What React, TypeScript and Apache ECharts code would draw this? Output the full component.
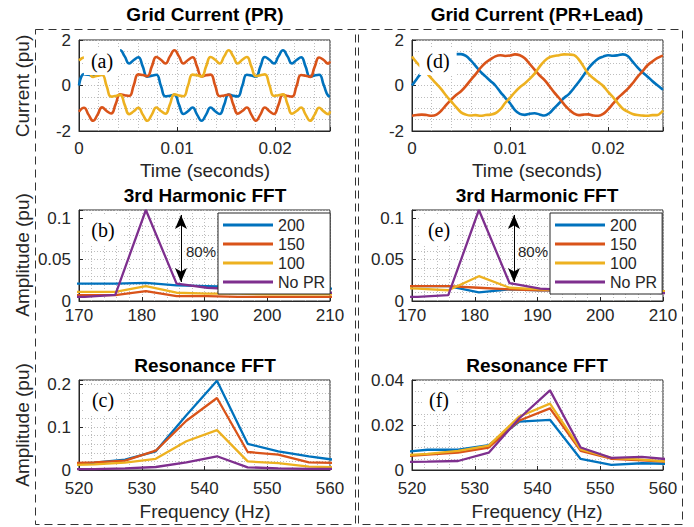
import React, { useEffect, useRef } from 'react';
import * as echarts from 'echarts';

const BLUE = '#0072BD';
const ORANGE = '#D95319';
const YELLOW = '#EDB120';
const PURPLE = '#7E2F8E';
const INK = '#262626';
const SANS = 'Liberation Sans';
const SERIF = 'Liberation Serif';

// ---- time-domain data: PR (time in ms, current in pu) ----
const timeMsPR = [0, 0.51, 0.972, 1.433, 1.894, 2.355, 2.817, 3.278, 3.739, 4.2, 4.661, 5.123, 5.584, 6.045, 6.507, 6.968, 7.429, 7.89, 8.352, 8.813, 9.274, 9.735, 10.197, 10.658, 11.119, 11.58, 12.042, 12.503, 12.964, 13.425, 13.887, 14.348, 14.809, 15.27, 15.732, 16.193, 16.654, 17.115, 17.577, 18.038, 18.499, 18.96, 19.422, 19.883, 20.344, 20.805, 21.267, 21.728, 22.189, 22.65, 23.112, 23.573, 24.034, 24.495, 24.957, 25.418, 25.6];
const prPhaseA = [0.0, 0.5, 0.47, 0.42, 0.85, 1.26, 1.14, 0.98, 1.28, 1.55, 1.28, 0.97, 1.12, 1.24, 0.83, 0.39, 0.43, 0.47, -0.01, -0.48, -0.45, -0.41, -0.84, -1.25, -1.13, -0.97, -1.28, -1.55, -1.28, -0.97, -1.13, -1.25, -0.84, -0.4, -0.45, -0.48, -0.01, 0.47, 0.44, 0.39, 0.83, 1.25, 1.13, 0.97, 1.28, 1.55, 1.28, 0.97, 1.12, 1.24, 0.83, 0.39, 0.44, 0.47, 0.02, -0.45, -0.47];
const prPhaseB = [-1.15, -0.98, -1.28, -1.55, -1.28, -0.96, -1.12, -1.23, -0.82, -0.39, -0.43, -0.46, 0.01, 0.49, 0.46, 0.41, 0.84, 1.25, 1.13, 0.97, 1.28, 1.55, 1.28, 0.97, 1.12, 1.24, 0.83, 0.4, 0.45, 0.48, 0.0, -0.47, -0.44, -0.4, -0.83, -1.24, -1.12, -0.97, -1.28, -1.55, -1.28, -0.97, -1.13, -1.25, -0.85, -0.41, -0.46, -0.49, -0.02, 0.46, 0.43, 0.38, 0.82, 1.23, 1.12, 0.96, 1.06];
const prPhaseC = [1.1, 1.23, 0.82, 0.38, 0.43, 0.46, -0.02, -0.49, -0.46, -0.41, -0.85, -1.26, -1.13, -0.98, -1.28, -1.55, -1.28, -0.97, -1.12, -1.24, -0.83, -0.39, -0.44, -0.47, 0.0, 0.48, 0.45, 0.4, 0.84, 1.25, 1.13, 0.97, 1.28, 1.55, 1.28, 0.97, 1.13, 1.25, 0.84, 0.41, 0.45, 0.49, 0.01, -0.46, -0.43, -0.39, -0.82, -1.24, -1.12, -0.97, -1.28, -1.55, -1.28, -0.98, -1.14, -1.26, -1.13];

// ---- time-domain data: PR+Lead (time in ms, current in pu) ----
const timeMsLead = [0, 0.5, 1, 1.5, 2, 2.5, 3, 3.5, 4, 4.5, 5, 5.5, 6, 6.5, 7, 7.5, 8, 8.5, 9, 9.5, 10, 10.5, 11, 11.5, 12, 12.5, 13, 13.5, 14, 14.5, 15, 15.5, 16, 16.5, 17, 17.5, 18, 18.5, 19, 19.5, 20, 20.5, 21, 21.5, 22, 22.5, 23, 23.5, 24, 24.5, 25, 25.5, 25.6];
const leadPhaseA = [0, 0.3, 0.58, 0.82, 1.0, 1.15, 1.25, 1.32, 1.36, 1.38, 1.38, 1.3, 1.1, 0.85, 0.6, 0.4, 0.2, 0.0, -0.28, -0.53, -0.78, -1.08, -1.25, -1.29, -1.24, -1.22, -1.27, -1.32, -1.22, -1.0, -0.78, -0.55, -0.38, -0.12, 0.15, 0.45, 0.76, 1.0, 1.18, 1.27, 1.33, 1.31, 1.33, 1.37, 1.3, 1.05, 0.8, 0.58, 0.4, 0.2, 0.02, -0.15, -0.18];
const leadPhaseB = [-1.33, -1.3, -1.28, -1.3, -1.33, -1.28, -1.1, -0.85, -0.62, -0.42, -0.25, -0.02, 0.25, 0.5, 0.78, 1.0, 1.15, 1.28, 1.33, 1.3, 1.32, 1.37, 1.33, 1.2, 0.95, 0.7, 0.45, 0.25, -0.02, -0.3, -0.55, -0.82, -1.05, -1.22, -1.3, -1.28, -1.27, -1.32, -1.33, -1.25, -1.05, -0.8, -0.55, -0.35, -0.15, 0.1, 0.38, 0.62, 0.88, 1.05, 1.2, 1.3, 1.31];
const leadPhaseC = [1.28, 1.0, 0.78, 0.55, 0.3, 0.07, -0.17, -0.45, -0.7, -0.95, -1.18, -1.28, -1.32, -1.3, -1.33, -1.3, -1.28, -1.22, -1.05, -0.77, -0.54, -0.29, -0.08, 0.09, 0.29, 0.52, 0.82, 1.07, 1.24, 1.3, 1.33, 1.37, 1.36, 1.34, 1.15, 0.83, 0.51, 0.32, 0.15, -0.02, -0.28, -0.51, -0.78, -1.02, -1.15, -1.25, -1.3, -1.32, -1.33, -1.3, -1.3, -1.15, -1.1];

// ---- 3rd harmonic FFT (Hz, pu) ----
const harmFreq = [166.02, 170.9, 175.78, 180.66, 185.55, 190.43, 195.31, 200.2, 205.08, 209.96, 214.84];
const harmPR200 = [0.021, 0.021, 0.021, 0.022, 0.019, 0.018, 0.017, 0.016, 0.016, 0.015, 0.015];
const harmPR150 = [0.007, 0.007, 0.007, 0.012, 0.006, 0.006, 0.005, 0.005, 0.005, 0.005, 0.005];
const harmPR100 = [0.011, 0.011, 0.011, 0.018, 0.01, 0.009, 0.009, 0.008, 0.008, 0.008, 0.008];
const harmNoPR = [0.005, 0.005, 0.0075, 0.11, 0.021, 0.016, 0.014, 0.012, 0.011, 0.01, 0.01];
const harmLead200 = [0.018, 0.018, 0.018, 0.0105, 0.014, 0.013, 0.013, 0.013, 0.012, 0.012, 0.012];
const harmLead150 = [0.018, 0.018, 0.018, 0.016, 0.014, 0.013, 0.013, 0.013, 0.013, 0.012, 0.012];
const harmLead100 = [0.016, 0.015, 0.013, 0.03, 0.016, 0.014, 0.013, 0.013, 0.013, 0.012, 0.012];
const harmLeadNoPR = [0.005, 0.005, 0.007, 0.11, 0.0215, 0.015, 0.013, 0.012, 0.011, 0.0095, 0.009];

// ---- resonance FFT (Hz, pu) ----
const resFreq = [517.58, 522.46, 527.34, 532.23, 537.11, 541.99, 546.88, 551.76, 556.64, 561.52];
const resPR200 = [0.012, 0.017, 0.024, 0.0435, 0.128, 0.208, 0.061, 0.0435, 0.032, 0.022];
const resPR150 = [0.015, 0.018, 0.022, 0.045, 0.115, 0.168, 0.042, 0.036, 0.018, 0.016];
const resPR100 = [0.011, 0.013, 0.017, 0.026, 0.067, 0.093, 0.02, 0.016, 0.008, 0.006];
const resNoPR = [0.002, 0.002, 0.004, 0.007, 0.018, 0.032, 0.0063, 0.004, 0.0024, 0.0024];
const resLead200 = [0.0078, 0.009, 0.009, 0.011, 0.0215, 0.0223, 0.0049, 0.0023, 0.003, 0.0027];
const resLead150 = [0.006, 0.0068, 0.0077, 0.01, 0.022, 0.0274, 0.0085, 0.005, 0.0043, 0.0036];
const resLead100 = [0.0063, 0.0072, 0.0085, 0.0108, 0.0238, 0.0295, 0.0092, 0.0054, 0.0046, 0.0036];
const resLeadNoPR = [0.0035, 0.0037, 0.004, 0.0077, 0.023, 0.0354, 0.01, 0.0054, 0.0058, 0.0046];

const legendNames = ['200', '150', '100', 'No PR'];

type Panel = {
  left: number; top: number; width: number; height: number; xLabelMargin: number;
  xMin: number; xMax: number; xMajor: number; xMinor: number;
  yMin: number; yMax: number; yMajor: number; yMinor: number;
};

const PL = 79, PR = 412, PW = 251;
const panels: Panel[] = [
  { left: PL, top: 40, width: PW, height: 91, xLabelMargin: 9, xMin: 0, xMax: 0.0256, xMajor: 0.01, xMinor: 0.002, yMin: -2, yMax: 2, yMajor: 2, yMinor: 0.5 },
  { left: PL, top: 210, width: PW, height: 91, xLabelMargin: 6, xMin: 170, xMax: 210, xMajor: 10, xMinor: 2, yMin: 0, yMax: 0.11, yMajor: 0.05, yMinor: 0.01 },
  { left: PL, top: 380, width: PW, height: 90, xLabelMargin: 10, xMin: 520, xMax: 560, xMajor: 10, xMinor: 2, yMin: 0, yMax: 0.21, yMajor: 0.1, yMinor: 0.02 },
  { left: PR, top: 40, width: PW, height: 91, xLabelMargin: 9, xMin: 0, xMax: 0.0256, xMajor: 0.01, xMinor: 0.002, yMin: -2, yMax: 2, yMajor: 2, yMinor: 0.5 },
  { left: PR, top: 210, width: PW, height: 91, xLabelMargin: 6, xMin: 170, xMax: 210, xMajor: 10, xMinor: 2, yMin: 0, yMax: 0.11, yMajor: 0.05, yMinor: 0.01 },
  { left: PR, top: 380, width: PW, height: 90, xLabelMargin: 10, xMin: 520, xMax: 560, xMajor: 10, xMinor: 2, yMin: 0, yMax: 0.04, yMajor: 0.02, yMinor: 0.005 },
];

const isMult = (v: number, step: number) => Math.abs(v / step - Math.round(v / step)) < 1e-6;
const fmt = (v: number) => String(Number(v.toFixed(6)));
const pairs = (xs: number[], ys: number[]) => xs.map((x, i) => [x, ys[i]]);
const msPairs = (ms: number[], ys: number[]) => ms.map((t, i) => [t / 1000, ys[i]]);

const gridDot = { show: true, lineStyle: { color: '#bdbdbd', type: [1, 2] as any, width: 1 } };

function buildOption() {
  const grid: any[] = [];
  const xAxis: any[] = [];
  const yAxis: any[] = [];
  panels.forEach((p, i) => {
    grid.push({ left: p.left, top: p.top, width: p.width, height: p.height, show: true, borderColor: INK, borderWidth: 1, backgroundColor: '#fff', containLabel: false });
    xAxis.push({
      gridIndex: i, type: 'value', position: 'bottom', min: p.xMin, max: p.xMax, interval: p.xMajor,
      axisLine: { show: true, onZero: false, lineStyle: { color: INK, width: 1 } },
      axisTick: { show: true, inside: true, length: 4, lineStyle: { color: INK } },
      axisLabel: { show: true, margin: p.xLabelMargin, fontSize: 17, fontFamily: SANS, color: INK, formatter: (v: number) => (isMult(v, p.xMajor) ? fmt(v) : '') },
      splitLine: { show: false },
    });
    xAxis.push({
      gridIndex: i, type: 'value', position: 'top', min: p.xMin, max: p.xMax, interval: p.xMinor,
      axisLine: { show: false, onZero: false }, axisTick: { show: false }, axisLabel: { show: false },
      splitLine: gridDot,
    });
    yAxis.push({
      gridIndex: i, type: 'value', position: 'left', min: p.yMin, max: p.yMax, interval: p.yMajor,
      axisLine: { show: true, onZero: false, lineStyle: { color: INK, width: 1 } },
      axisTick: { show: true, inside: true, length: 4, lineStyle: { color: INK } },
      axisLabel: { show: true, margin: 8, fontSize: 17, fontFamily: SANS, color: INK, formatter: (v: number) => (isMult(v, p.yMajor) ? fmt(v) : '') },
      splitLine: { show: false },
    });
    yAxis.push({
      gridIndex: i, type: 'value', position: 'right', min: p.yMin, max: p.yMax, interval: p.yMinor,
      axisLine: { show: false, onZero: false }, axisTick: { show: false }, axisLabel: { show: false },
      splitLine: gridDot,
    });
  });

  const line = (name: string, color: string, panel: number, data: number[][], width: number, extra: any = {}) => ({
    type: 'line', name, xAxisIndex: panel * 2, yAxisIndex: panel * 2, data, showSymbol: false, symbol: 'none',
    lineStyle: { color, width }, itemStyle: { color }, clip: true, silent: true, z: 3, ...extra,
  });

  const arrow = (x: number) => ({
    markLine: {
      silent: true, symbol: ['arrow', 'arrow'], symbolSize: [9, 14], label: { show: false },
      lineStyle: { color: '#000', width: 1, type: 'solid' },
      data: [[{ coord: [x, 0.104] }, { coord: [x, 0.023] }]],
    },
  });

  const series: any[] = [
    line('Phase A', BLUE, 0, msPairs(timeMsPR, prPhaseA), 2.6, { smooth: 0.5 }),
    line('Phase B', ORANGE, 0, msPairs(timeMsPR, prPhaseB), 2.6, { smooth: 0.5 }),
    line('Phase C', YELLOW, 0, msPairs(timeMsPR, prPhaseC), 2.6, { smooth: 0.5 }),
    line('200', BLUE, 1, pairs(harmFreq, harmPR200), 2.3),
    line('150', ORANGE, 1, pairs(harmFreq, harmPR150), 2.3),
    line('100', YELLOW, 1, pairs(harmFreq, harmPR100), 2.3),
    line('No PR', PURPLE, 1, pairs(harmFreq, harmNoPR), 2.3, arrow(186.25)),
    line('200', BLUE, 2, pairs(resFreq, resPR200), 2.3),
    line('150', ORANGE, 2, pairs(resFreq, resPR150), 2.3),
    line('100', YELLOW, 2, pairs(resFreq, resPR100), 2.3),
    line('No PR', PURPLE, 2, pairs(resFreq, resNoPR), 2.3),
    line('Phase A', BLUE, 3, msPairs(timeMsLead, leadPhaseA), 2.6, { smooth: 0.4 }),
    line('Phase B', ORANGE, 3, msPairs(timeMsLead, leadPhaseB), 2.6, { smooth: 0.4 }),
    line('Phase C', YELLOW, 3, msPairs(timeMsLead, leadPhaseC), 2.6, { smooth: 0.4 }),
    line('200', BLUE, 4, pairs(harmFreq, harmLead200), 2.3),
    line('150', ORANGE, 4, pairs(harmFreq, harmLead150), 2.3),
    line('100', YELLOW, 4, pairs(harmFreq, harmLead100), 2.3),
    line('No PR', PURPLE, 4, pairs(harmFreq, harmLeadNoPR), 2.3, arrow(186.25)),
    line('200', BLUE, 5, pairs(resFreq, resLead200), 2.3),
    line('150', ORANGE, 5, pairs(resFreq, resLead150), 2.3),
    line('100', YELLOW, 5, pairs(resFreq, resLead100), 2.3),
    line('No PR', PURPLE, 5, pairs(resFreq, resLeadNoPR), 2.3),
  ];

  const legend = (left: number) => ({
    show: true, orient: 'vertical', left, top: 213, data: legendNames, icon: 'rect',
    itemWidth: 50, itemHeight: 3, itemGap: 1, padding: [3, 5, 3, 5],
    backgroundColor: '#fff', borderColor: INK, borderWidth: 1, borderRadius: 0, selectedMode: false,
    textStyle: { fontSize: 16, fontFamily: SANS, color: INK, lineHeight: 18 }, z: 10,
  });

  const txt = (text: string, x: number, y: number, size: number, bold = false, extra: any = {}) => ({
    type: 'text', x, y, z: 100, silent: true,
    style: { text, fontSize: size, fontFamily: SANS, fontWeight: bold ? 'bold' : 'normal', fill: bold ? '#000' : INK, align: 'center', verticalAlign: 'middle' },
    ...extra,
  });
  const tag = (text: string, x: number, y: number) => ({
    type: 'text', x, y, z: 100, silent: true,
    style: { text, fontSize: 20, fontFamily: SERIF, fill: '#000', align: 'center', verticalAlign: 'middle', backgroundColor: '#fff', padding: [4, 7, 4, 7] },
  });
  const ylab = (text: string, y: number) => txt(text, 22, y, 19, false, { rotation: Math.PI / 2 });
  const box = (x0: number, x1: number) => ({
    type: 'rect', z: 0, silent: true, shape: { x: x0 + 0.5, y: 29.5, width: x1 - x0, height: 495 },
    style: { fill: 'none', stroke: '#333', lineWidth: 1, lineDash: [8, 5] },
  });

  const graphic: any[] = [
    box(35, 355), box(358, 682),
    txt('Grid Current (PR)', 205, 14, 19, true),
    txt('Grid Current (PR+Lead)', 537, 14, 19, true),
    txt('Time (seconds)', 205, 170, 19), txt('Time (seconds)', 537, 170, 19),
    txt('3rd Harmonic FFT', 205, 195, 19, true), txt('3rd Harmonic FFT', 537, 195, 19, true),
    txt('Resonance FFT', 205, 365, 19, true), txt('Resonance FFT', 537, 365, 19, true),
    txt('Frequency (Hz)', 205, 511, 19), txt('Frequency (Hz)', 537, 511, 19),
    ylab('Current (pu)', 86), ylab('Amplitude (pu)', 255), ylab('Amplitude (pu)', 425),
    tag('(a)', 102, 61), tag('(b)', 103, 230), tag('(c)', 103, 400),
    tag('(d)', 438, 61), tag('(e)', 439, 230), tag('(f)', 439, 400),
    { type: 'text', x: 186, y: 251, z: 100, silent: true, style: { text: '80%', fontSize: 15, fontFamily: SANS, fill: INK, align: 'left', verticalAlign: 'middle' } },
    { type: 'text', x: 518, y: 251, z: 100, silent: true, style: { text: '80%', fontSize: 15, fontFamily: SANS, fill: INK, align: 'left', verticalAlign: 'middle' } },
  ];

  return {
    animation: false,
    backgroundColor: '#fff',
    grid, xAxis, yAxis, series,
    legend: [legend(218), legend(550)],
    graphic,
  };
}

export default function App() {
  const ref = useRef<HTMLDivElement>(null);
  useEffect(() => {
    if (!ref.current) return;
    const chart = echarts.init(ref.current, null, { renderer: 'svg' });
    chart.setOption(buildOption() as any);
    return () => chart.dispose();
  }, []);
  return <div ref={ref} style={{ position: 'fixed', left: 0, top: 0, width: 694, height: 527, background: '#fff' }} />;
}
